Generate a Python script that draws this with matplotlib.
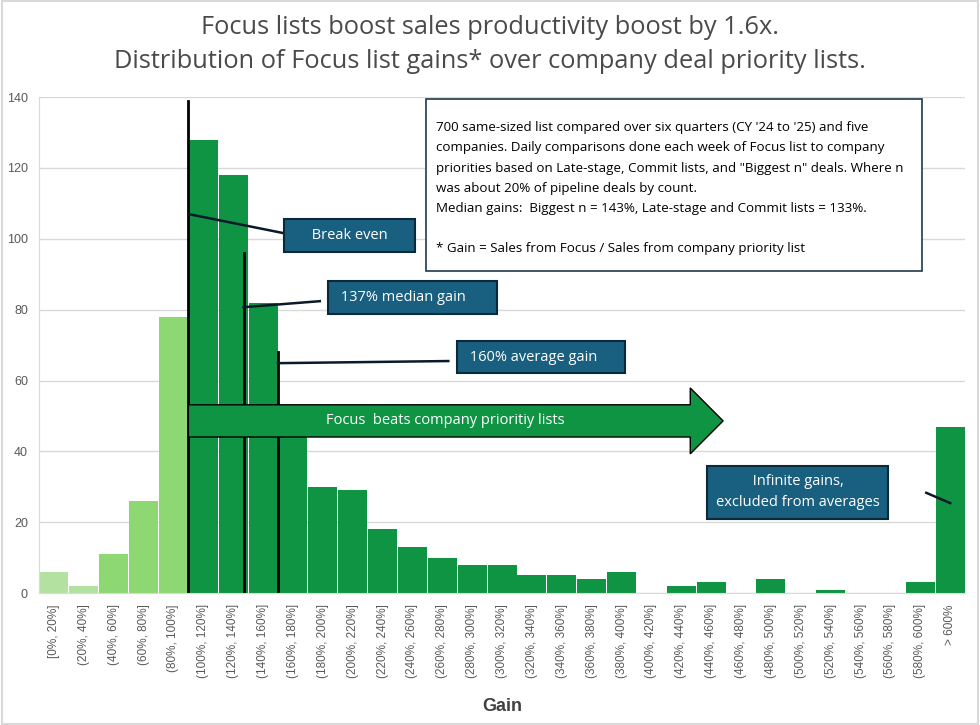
import matplotlib
matplotlib.use('Agg')
import matplotlib.pyplot as plt
from matplotlib.patches import FancyArrow, Rectangle

# bins of gain (Focus / company list), count of comparisons
bins = ['[0%, 20%]', '(20%, 40%]', '(40%, 60%]', '(60%, 80%]', '(80%, 100%]',
        '(100%, 120%]', '(120%, 140%]', '(140%, 160%]', '(160%, 180%]', '(180%, 200%]',
        '(200%, 220%]', '(220%, 240%]', '(240%, 260%]', '(260%, 280%]', '(280%, 300%]',
        '(300%, 320%]', '(320%, 340%]', '(340%, 360%]', '(360%, 380%]', '(380%, 400%]',
        '(400%, 420%]', '(420%, 440%]', '(440%, 460%]', '(460%, 480%]', '(480%, 500%]',
        '(500%, 520%]', '(520%, 540%]', '(540%, 560%]', '(560%, 580%]', '(580%, 600%]',
        '> 600%']
counts = [6, 2, 11, 26, 78, 128, 118, 82, 46, 30, 29, 18, 13, 10, 8, 8, 5, 5, 4, 6,
          0, 2, 3, 0, 4, 0, 1, 0, 0, 3, 47]

break_even = 100
median_gain = 137
average_gain = 160

light = '#b3e2a0'
mid = '#8ed873'
dark = '#0f9443'
navy = '#195f80'

colors = []
for i in range(len(counts)):
    if i < 2:
        colors.append(light)
    elif i < 5:
        colors.append(mid)
    else:
        colors.append(dark)

def gx(g):
    # gain percent -> bar position
    return g / 20 - 0.5

fig = plt.figure(figsize=(9.8, 7.25), dpi=100)
ax = fig.add_axes([0.0398, 0.182, 0.945, 0.684])

x = list(range(len(counts)))
ax.bar(x, counts, width=0.97, color=colors, zorder=2)
ax.set_xlim(-0.5, len(counts) - 0.5)
ax.set_ylim(0, 140)
ax.set_yticks(range(0, 141, 20))
ax.set_xticks(x)
ax.set_xticklabels(bins, rotation=90, fontsize=8.5, color='#595959', family='Liberation Sans')
ax.tick_params(axis='y', labelsize=9, labelcolor='#595959', length=0, pad=8)
ax.tick_params(axis='x', length=0, pad=8)
for lab in ax.get_yticklabels():
    lab.set_family('Liberation Sans')
ax.grid(axis='y', color='#d9d9d9', lw=1, zorder=0)
for s in ['top', 'right']:
    ax.spines[s].set_visible(False)
ax.spines['left'].set_color('#d9d9d9')
ax.spines['bottom'].set_color('#d9d9d9')
ax.set_xlabel('Gain', fontsize=13, fontweight='bold', color='#404040',
              family='Liberation Sans', labelpad=14)

fig.text(0.5, 0.962, 'Focus lists boost sales productivity boost by 1.6x.',
         ha='center', va='center', fontsize=18.3, color='#4a4a4a', family='Open Sans')
fig.text(0.5, 0.915, 'Distribution of Focus list gains* over company deal priority lists.',
         ha='center', va='center', fontsize=18.3, color='#4a4a4a', family='Open Sans')

# vertical markers
ax.plot([gx(break_even)] * 2, [0, 139], color='black', lw=2, zorder=3)
ax.plot([gx(median_gain)] * 2, [0, 96], color='black', lw=2, zorder=3)
ax.plot([gx(average_gain)] * 2, [0, 68], color='black', lw=2, zorder=3)

# big arrow
arr = FancyArrow(gx(break_even), 48.6, 17.9, 0, width=9.1, head_width=18.6,
                 head_length=1.1, length_includes_head=True,
                 facecolor=dark, edgecolor='black', lw=1, zorder=4)
ax.add_patch(arr)
ax.text(13.1, 48.7, 'Focus  beats company prioritiy lists', color='white',
        fontsize=10.5, ha='center', va='center', family='Open Sans', zorder=5)

box = dict(boxstyle='square,pad=0.6', facecolor=navy, edgecolor='#0a2a3a', lw=1.5)

def callout(txt, tx, ty, x0, y0, x1, y1):
    ax.plot([x0, x1], [y0, y1], color='#0a1a2a', lw=1.8, zorder=5)
    ax.text(tx, ty, txt, color='white', fontsize=10.5, ha='center', va='center',
            family='Open Sans', bbox=box, zorder=6, linespacing=1.5)

callout('     Break even     ', 9.9, 101, gx(break_even), 107, 7.75, 101.5)
callout(' 137% median gain      ', 12.0, 83.4, gx(median_gain), 80.7, 8.9, 82.4)
callout(' 160% average gain     ', 16.3, 66.6, gx(average_gain), 64.9, 13.2, 65.5)
callout('         Infinite gains,         \nexcluded from averages', 24.9, 28.5, 29.2, 28.3, 30.0, 25.4)

# note box
note = ('700 same-sized list compared over six quarters (CY \'24 to \'25) and five\n'
        'companies. Daily comparisons done each week of Focus list to company\n'
        'priorities based on Late-stage, Commit lists, and "Biggest n" deals. Where n\n'
        'was about 20% of pipeline deals by count.\n'
        'Median gains:  Biggest n = 143%, Late-stage and Commit lists = 133%.\n'
        '\n'
        '* Gain = Sales from Focus / Sales from company priority list')
ax.add_patch(Rectangle((12.46, 90.9), 16.6, 48.5, facecolor='white',
                       edgecolor='#1f3a4a', lw=1.2, zorder=6))
ax.text(12.8, 133.2, note, fontsize=9.6, va='top', ha='left', color='black',
        family='Open Sans', linespacing=1.72, zorder=7)

# outer chart border
fig.add_artist(Rectangle((0.002, 0.002), 0.996, 0.996, transform=fig.transFigure,
                         fill=False, edgecolor='#d9d9d9', lw=1.5))

fig.savefig('out.png', dpi=100)
